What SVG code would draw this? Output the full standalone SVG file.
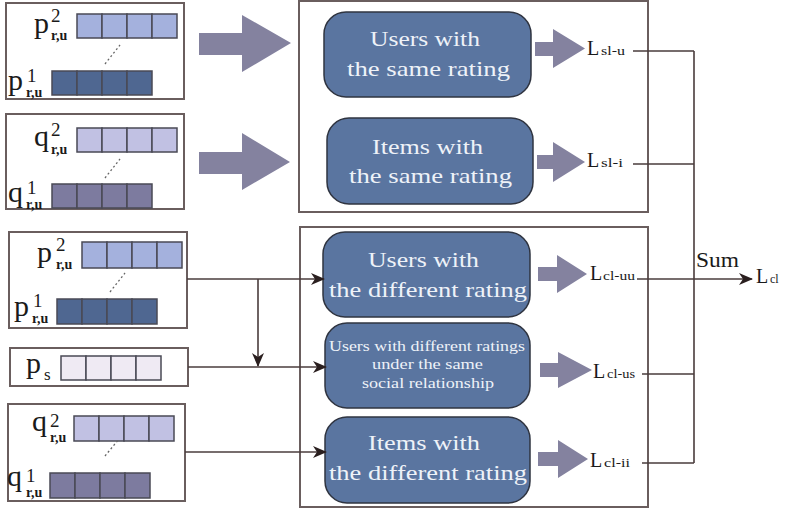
<svg xmlns="http://www.w3.org/2000/svg" width="785" height="510" viewBox="0 0 785 510" font-family="'Liberation Serif', Tinos, 'Times New Roman', Times, 'DejaVu Serif', 'Noto Serif', Georgia, serif">
  <style>
    .frame { fill: #ffffff; stroke: #6a5e5e; stroke-width: 2; }
    .panel { fill: none; stroke: #6a5e5e; stroke-width: 2; }
    .cell { stroke: #4a4a55; stroke-width: 1.5; }
    .p2 { fill: #a4b1dd; }
    .p1 { fill: #4f6791; }
    .q2 { fill: #c1c1e3; }
    .q1 { fill: #7d7b9f; }
    .ps { fill: #efeaf3; }
    .dots { stroke: #666; stroke-width: 1.3; stroke-dasharray: 2 2.5; fill: none; }
    .sym { fill: #1a1a1a; }
    .big { font-size: 30px; }
    .sup { font-size: 19px; }
    .sub { font-size: 14px; font-weight: bold; }
    .fat { fill: #84829f; }
    .node rect { fill: #5a75a0; stroke: #2f3440; stroke-width: 1.5; }
    .node text { fill: #eef2f8; font-size: 21px; }
    .node text.small { font-size: 15px; }
    .loss text { fill: #1a1a1a; }
    .loss .L { font-size: 20px; }
    .loss .s { font-size: 12px; }
    .wire { stroke: #4a3c3c; stroke-width: 1.6; fill: none; }
  </style>
  <defs>
    <marker id="head" markerWidth="14" markerHeight="12" refX="13" refY="6" orient="auto" markerUnits="userSpaceOnUse">
      <path d="M0,0 L14,6 L0,12 L4,6 z" fill="#2a1f1f"/>
    </marker>
  </defs>

  <!-- input embeddings -->
  <g id="input-p-same">
    <rect class="frame" x="6" y="3" width="178" height="96"/>
    <g class="cell p2"><rect x="77" y="14" width="25" height="24"/><rect x="102" y="14" width="25" height="24"/><rect x="127" y="14" width="25" height="24"/><rect x="152" y="14" width="25" height="24"/></g>
    <g class="cell p1"><rect x="52" y="71" width="25" height="24"/><rect x="77" y="71" width="25" height="24"/><rect x="102" y="71" width="25" height="24"/><rect x="127" y="71" width="25" height="24"/></g>
    <line class="dots" x1="105" y1="64" x2="120" y2="45"/>
    <text class="sym big" x="34" y="33">p</text><text class="sym sup" x="51" y="22">2</text><text class="sym sub" x="51" y="40">r,u</text>
    <text class="sym big" x="8" y="90">p</text><text class="sym sup" x="27" y="82">1</text><text class="sym sub" x="26" y="97">r,u</text>
  </g>

  <g id="input-q-same">
    <rect class="frame" x="6" y="114" width="178" height="95"/>
    <g class="cell q2"><rect x="77" y="128" width="25" height="24"/><rect x="102" y="128" width="25" height="24"/><rect x="127" y="128" width="25" height="24"/><rect x="152" y="128" width="25" height="24"/></g>
    <g class="cell q1"><rect x="52" y="184" width="25" height="24"/><rect x="77" y="184" width="25" height="24"/><rect x="102" y="184" width="25" height="24"/><rect x="127" y="184" width="25" height="24"/></g>
    <line class="dots" x1="105" y1="178" x2="120" y2="159"/>
    <text class="sym big" x="34" y="146">q</text><text class="sym sup" x="51" y="136">2</text><text class="sym sub" x="51" y="154">r,u</text>
    <text class="sym big" x="8" y="202">q</text><text class="sym sup" x="27" y="194">1</text><text class="sym sub" x="26" y="209">r,u</text>
  </g>

  <g id="input-p-diff">
    <rect class="frame" x="9" y="232" width="178" height="96"/>
    <g class="cell p2"><rect x="82" y="242" width="25" height="26"/><rect x="107" y="242" width="25" height="26"/><rect x="132" y="242" width="25" height="26"/><rect x="157" y="242" width="25" height="26"/></g>
    <g class="cell p1"><rect x="57" y="299" width="25" height="25"/><rect x="82" y="299" width="25" height="25"/><rect x="107" y="299" width="25" height="25"/><rect x="132" y="299" width="25" height="25"/></g>
    <line class="dots" x1="110" y1="292" x2="125" y2="273"/>
    <text class="sym big" x="37" y="262">p</text><text class="sym sup" x="56" y="251">2</text><text class="sym sub" x="56" y="269">r,u</text>
    <text class="sym big" x="14" y="316">p</text><text class="sym sup" x="33" y="307">1</text><text class="sym sub" x="32" y="323">r,u</text>
  </g>

  <g id="input-p-social">
    <rect class="frame" x="10" y="348" width="178" height="38"/>
    <g class="cell ps"><rect x="61" y="356" width="25" height="24"/><rect x="86" y="356" width="25" height="24"/><rect x="111" y="356" width="25" height="24"/><rect x="136" y="356" width="25" height="24"/></g>
    <text class="sym big" x="26" y="373">p</text><text class="sym" font-size="17" x="44" y="380">s</text>
  </g>

  <g id="input-q-diff">
    <rect class="frame" x="8" y="404" width="177" height="97"/>
    <g class="cell q2"><rect x="74" y="416" width="25" height="25"/><rect x="99" y="416" width="25" height="25"/><rect x="124" y="416" width="25" height="25"/><rect x="149" y="416" width="25" height="25"/></g>
    <g class="cell q1"><rect x="50" y="473" width="25" height="25"/><rect x="75" y="473" width="25" height="25"/><rect x="100" y="473" width="25" height="25"/><rect x="125" y="473" width="25" height="25"/></g>
    <line class="dots" x1="105" y1="456" x2="119" y2="439"/>
    <text class="sym big" x="32" y="431">q</text><text class="sym sup" x="50" y="427">2</text><text class="sym sub" x="50" y="442">r,u</text>
    <text class="sym big" x="7" y="486">q</text><text class="sym sup" x="26" y="482">1</text><text class="sym sub" x="26" y="497">r,u</text>
  </g>

  <!-- grouping panels -->
  <g id="panel-same">
    <rect class="panel" x="299" y="1" width="349" height="211"/>
  </g>
  <g id="panel-diff">
    <rect class="panel" x="300" y="227" width="348" height="280"/>
  </g>

  <!-- contrastive views -->
  <g id="node-users-same" class="node">
    <rect x="324" y="12" width="207" height="85" rx="22"/>
    <text x="370" y="46" textLength="110" lengthAdjust="spacingAndGlyphs">Users with</text>
    <text x="347" y="76" textLength="163" lengthAdjust="spacingAndGlyphs">the same rating</text>
  </g>
  <g id="node-items-same" class="node">
    <rect x="327" y="118" width="206" height="86" rx="22"/>
    <text x="372" y="154" textLength="111" lengthAdjust="spacingAndGlyphs">Items with</text>
    <text x="349" y="183" textLength="163" lengthAdjust="spacingAndGlyphs">the same rating</text>
  </g>
  <g id="node-users-diff" class="node">
    <rect x="323" y="232" width="207" height="85" rx="22"/>
    <text x="368" y="267" textLength="111" lengthAdjust="spacingAndGlyphs">Users with</text>
    <text x="329" y="297" textLength="198" lengthAdjust="spacingAndGlyphs">the different rating</text>
  </g>
  <g id="node-users-social" class="node">
    <rect x="325" y="323" width="205" height="85" rx="22"/>
    <text class="small" x="329" y="351" textLength="196" lengthAdjust="spacingAndGlyphs">Users with different ratings</text>
    <text class="small" x="372" y="369" textLength="111" lengthAdjust="spacingAndGlyphs">under the same</text>
    <text class="small" x="362" y="388" textLength="132" lengthAdjust="spacingAndGlyphs">social relationship</text>
  </g>
  <g id="node-items-diff" class="node">
    <rect x="325" y="417" width="205" height="86" rx="22"/>
    <text x="368" y="450" textLength="112" lengthAdjust="spacingAndGlyphs">Items with</text>
    <text x="329" y="480" textLength="198" lengthAdjust="spacingAndGlyphs">the different rating</text>
  </g>

  <!-- loss terms -->
  <g id="loss-sl-u" class="loss"><text class="L" x="587" y="55">L</text><text class="s" x="601" y="55" textLength="24" lengthAdjust="spacingAndGlyphs">sl-u</text></g>
  <g id="loss-sl-i" class="loss"><text class="L" x="587" y="167">L</text><text class="s" x="601" y="167" textLength="22" lengthAdjust="spacingAndGlyphs">sl-i</text></g>
  <g id="loss-cl-uu" class="loss"><text class="L" x="590" y="280">L</text><text class="s" x="603" y="280" textLength="32" lengthAdjust="spacingAndGlyphs">cl-uu</text></g>
  <g id="loss-cl-us" class="loss"><text class="L" x="593" y="378">L</text><text class="s" x="607" y="378" textLength="28" lengthAdjust="spacingAndGlyphs">cl-us</text></g>
  <g id="loss-cl-ii" class="loss"><text class="L" x="590" y="467">L</text><text class="s" x="604" y="467" textLength="26" lengthAdjust="spacingAndGlyphs">cl-ii</text></g>
  <g id="loss-cl" class="loss">
    <text class="L" x="756" y="283">L</text><text class="s" x="770" y="283">cl</text>
    <text x="696" y="267" font-size="21" textLength="43" lengthAdjust="spacingAndGlyphs">Sum</text>
  </g>

  <!-- connectors -->
  <g id="connectors">
    <!-- broad flow arrows -->
    <polygon class="fat" points="199,33 242,33 242,15 291,43 242,72 242,55 199,55"/>
    <polygon class="fat" points="199,152 242,152 242,133 290,162 242,190 242,174 199,174"/>
    <polygon class="fat" points="535,42 553,42 553,29 585,48.5 553,68 553,56 535,56"/>
    <polygon class="fat" points="537,155 553,155 553,142 585,162 553,182 553,169 537,169"/>
    <polygon class="fat" points="538,267 557,267 557,255 587,274 557,293 557,281 538,281"/>
    <polygon class="fat" points="540,363 558,363 558,352 592,370 558,388 558,377 540,377"/>
    <polygon class="fat" points="538,452 558,452 558,440 588,459 558,478 558,466 538,466"/>
    <!-- inputs into the different-rating views -->
    <path class="wire" d="M187,279 H324" marker-end="url(#head)"/>
    <path class="wire" d="M258,279 V366" marker-end="url(#head)"/>
    <path class="wire" d="M188,367 H326" marker-end="url(#head)"/>
    <path class="wire" d="M185,452 H326" marker-end="url(#head)"/>
    <!-- summation bus -->
    <path class="wire" d="M633,51 H694 M633,164 H694 M642,374 H694 M642,463 H694 M694,51 V463"/>
    <path class="wire" d="M637,279 H752" marker-end="url(#head)"/>
  </g>
</svg>
